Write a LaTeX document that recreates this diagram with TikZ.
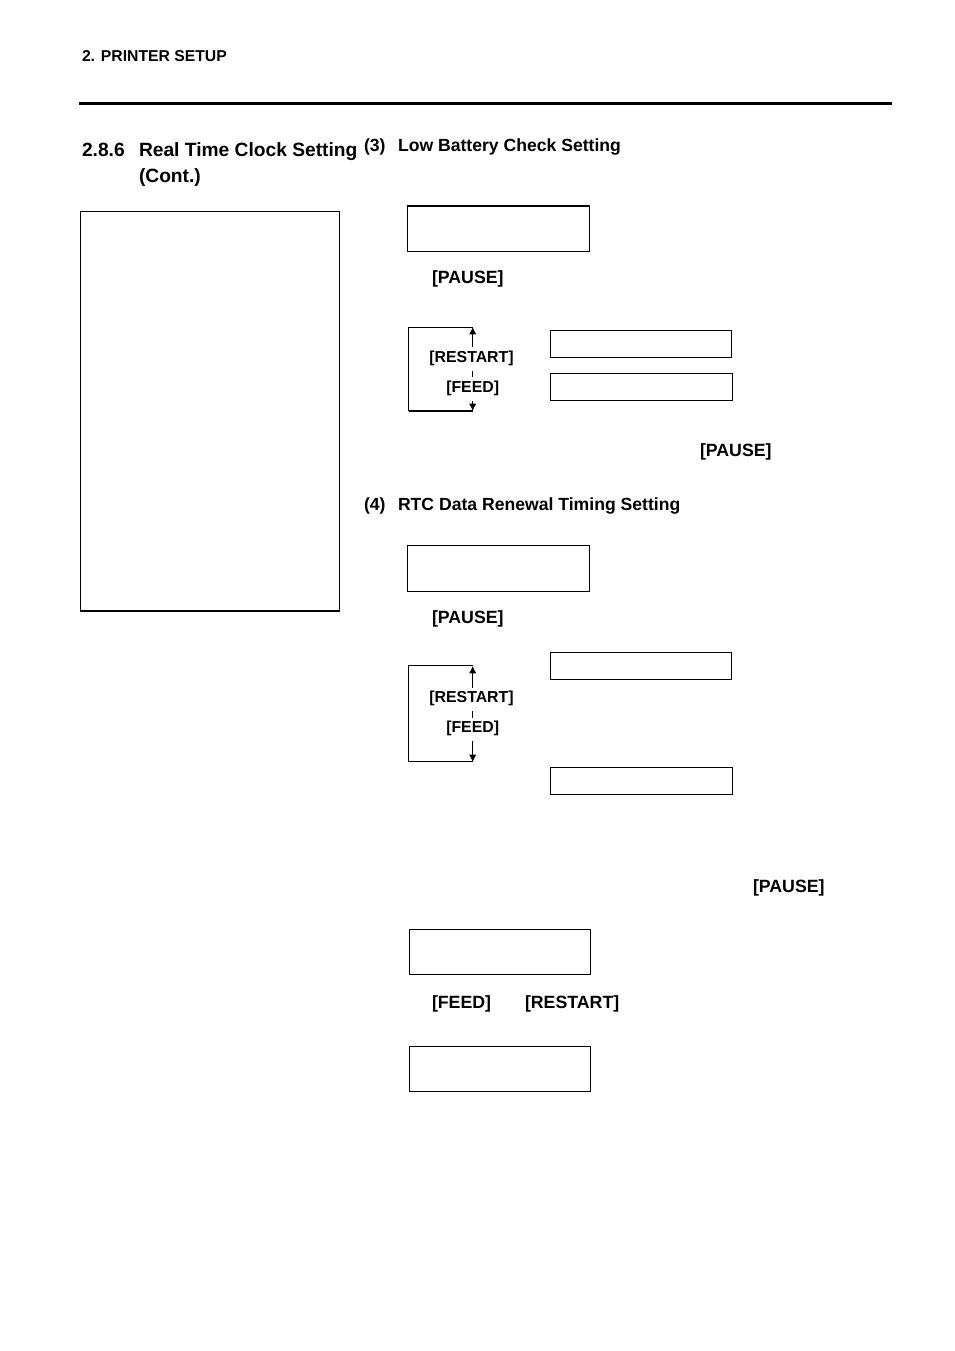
\documentclass[tikz,border=0pt]{standalone}
\usepackage{fontspec}
\setmainfont{Liberation Sans}
\usetikzlibrary{arrows.meta}
\begin{document}
\begin{tikzpicture}[
    x=0.75pt,y=-0.75pt,
    line width=0.75pt,
    font=\bfseries
]
\tikzset{
    headtext/.style = {anchor=base west, inner sep=0pt, font=\bfseries\fontsize{11.8}{14}\selectfont},
    titletext/.style = {anchor=base west, inner sep=0pt, font=\bfseries\fontsize{14.4}{17}\selectfont},
    subtext/.style = {anchor=base west, inner sep=0pt, font=\bfseries\fontsize{13.2}{16}\selectfont},
    keytext/.style = {anchor=base west, inner sep=0pt, font=\bfseries\fontsize{13.3}{16}\selectfont},
    keysmall/.style = {anchor=base, inner sep=0pt, fill=white, text height=11.25pt, text depth=6.4pt,
        font=\bfseries\fontsize{11.9}{14}\selectfont},
    lcdbox/.style = {draw, anchor=north west, outer sep=0pt, minimum width=136.2pt, minimum height=34pt},
    msgbox/.style = {draw, anchor=north west, outer sep=0pt, minimum width=136.6pt, minimum height=20.4pt},
    loopline/.style = {-},
    looparrow/.style = {{Latex[length=5.5pt,width=5.5pt]}-{Latex[length=5.5pt,width=5.5pt]}}
}
\useasboundingbox (0,0) rectangle (954,1351);

% page head
\node[headtext] at (81.5,61.5) (head) {2. PRINTER SETUP};
\coordinate (ruleL) at (79,103.3);
\coordinate (ruleR) at (891.5,103.3);
\draw[line width=2.2pt] (ruleL) -- (ruleR);
\node[titletext] at (81.5,156.5) (secnum) {2.8.6};
\node[titletext] at (138.5,156.5) (sectitle) {Real Time Clock Setting};
\node[titletext] at (138.5,182.5) (seccont) {(Cont.)};
\node[draw, anchor=north west, outer sep=0pt, minimum width=194.3pt, minimum height=299.7pt] at (80.5,211.5) (panel) {};
\draw[line width=1.5pt] (panel.south west) -- (panel.south east);

% (3) low battery
\node[subtext] at (363.5,151.5) (numc) {(3)};
\node[subtext] at (397.5,151.5) (titlec) {Low Battery Check Setting};
\node[lcdbox] at (407.5,205.7) (lcda) {};
\draw[line width=1.5pt] (lcda.north west) -- (lcda.north east);
\node[keytext] at (431.5,283.5) (pausea) {[PAUSE]};
\node[msgbox, minimum width=136pt] at (550.3,330.3) (msga) {};
\node[msgbox] at (550.3,373.3) (msgb) {};
\coordinate (atop) at (472.7,327);
\coordinate (abot) at (472.7,411);
\coordinate (acornt) at (408.5,328);
\coordinate (acornb) at (408.5,411);
\draw[looparrow] (atop) -- (abot);
\draw[loopline] (atop |- acornt) -- (acornt) -- (acornb);
\draw[loopline, line width=1.5pt] (acornb) -- (abot);
\node[keysmall] at (471.5,362.5) (resta) {[RESTART]};
\node[keysmall] at (472.7,392.5) (feeda) {[FEED]};
\node[keytext] at (699.5,456.3) (pauseb) {[PAUSE]};

% (4) rtc renewal
\node[subtext] at (363.5,510.5) (numd) {(4)};
\node[subtext] at (397.5,510.5) (titled) {RTC Data Renewal Timing Setting};
\node[lcdbox] at (407.5,545.7) (lcdb) {};
\node[keytext] at (431.5,623.3) (pausec) {[PAUSE]};
\node[msgbox, minimum width=136pt] at (550.3,652.5) (msgc) {};
\node[msgbox] at (550.3,767.3) (msgd) {};
\coordinate (btop) at (472.7,666);
\coordinate (bbot) at (472.7,762);
\coordinate (bcornt) at (408.5,665.3);
\coordinate (bcornb) at (408.5,761.5);
\draw[looparrow] (btop) -- (bbot);
\draw[loopline] (btop |- bcornt) -- (bcornt) -- (bcornb) -- (bbot |- bcornb);
\node[keysmall] at (471.5,702.5) (restb) {[RESTART]};
\node[keysmall] at (472.7,732.5) (feedb) {[FEED]};
\node[keytext] at (752.5,892.3) (paused) {[PAUSE]};

% last two displays
\node[lcdbox] at (409.2,929.3) (lcdc) {};
\node[keytext] at (431.5,1008.3) (feedc) {[FEED]};
\node[keytext] at (524.5,1008.3) (restc) {[RESTART]};
\node[lcdbox] at (409.2,1046.3) (lcdd) {};
\end{tikzpicture}
\end{document}
